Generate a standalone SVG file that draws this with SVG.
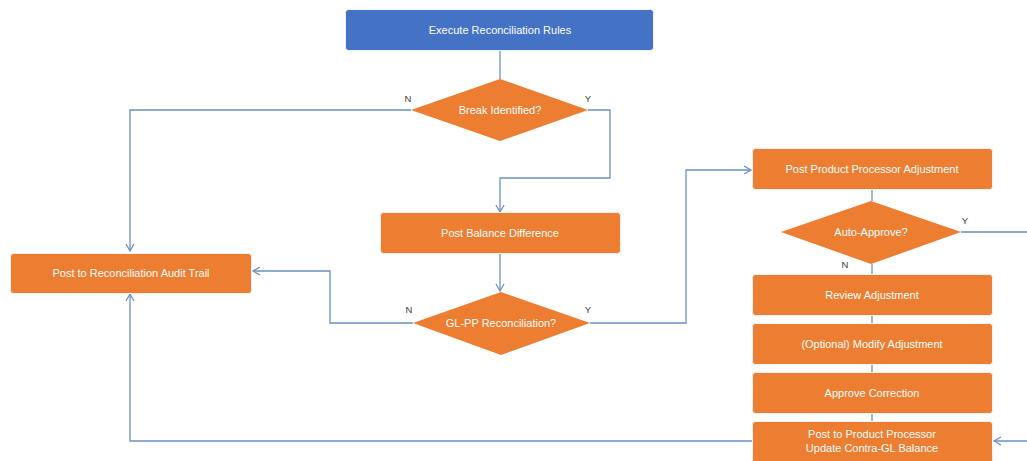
<svg xmlns="http://www.w3.org/2000/svg" width="1027" height="461" viewBox="0 0 1027 461">
<style>
.box{fill:#ED7D31;stroke:#F2F2F2;stroke-width:1}
.blue{fill:#4472C4;stroke:#F2F2F2;stroke-width:1}
.dia{fill:#ED7D31}
.t{font-family:"Liberation Sans",Arial,sans-serif;font-size:11px;fill:#FFFFFF;text-anchor:middle;dominant-baseline:central}
.lbl{font-family:"Liberation Sans",Arial,sans-serif;font-size:9.5px;fill:#404040;text-anchor:middle}
.c{fill:none;stroke:#6D90BE;stroke-width:1.3}
</style>
<defs>
<marker id="a" markerWidth="10" markerHeight="10" refX="8" refY="5" orient="auto" markerUnits="userSpaceOnUse">
<path d="M1,1 L8,5 L1,9" fill="none" stroke="#6D90BE" stroke-width="1.3"/>
</marker>
</defs>
<rect width="1027" height="461" fill="#FFFFFF"/>
<g id="connectors">
<path class="c" d="M500,50 V79"/>
<path class="c" d="M411,110 H130 V251" marker-end="url(#a)"/>
<path class="c" d="M588,110 H610 V178 H500 V212" marker-end="url(#a)"/>
<path class="c" d="M500,253 V291" marker-end="url(#a)"/>
<path class="c" d="M413,323 H330 V271 H253" marker-end="url(#a)"/>
<path class="c" d="M590,323 H686 V170 H751" marker-end="url(#a)"/>
<path class="c" d="M872,189 V201"/>
<path class="c" d="M961,232 H1027"/>
<path class="c" d="M872,264 V275"/>
<path class="c" d="M872,315 V324"/>
<path class="c" d="M872,364 V373"/>
<path class="c" d="M872,413 V422"/>
<path class="c" d="M752,441 H130 V294" marker-end="url(#a)"/>
<path class="c" d="M1027,441 H994" marker-end="url(#a)"/>
</g>
<g id="execute"><rect class="blue" x="345.5" y="9.5" width="308" height="41" rx="3"/><text class="t" x="500" y="30">Execute Reconciliation Rules</text></g>
<g id="break"><polygon class="dia" points="500,79 588,110 500,141 411,110"/><text class="t" x="500" y="110">Break Identified?</text>
<text class="lbl" x="408" y="102">N</text><text class="lbl" x="588" y="102">Y</text></g>
<g id="audit"><rect class="box" x="10.5" y="253.5" width="241" height="40" rx="3"/><text class="t" x="131" y="273">Post to Reconciliation Audit Trail</text></g>
<g id="balance"><rect class="box" x="380.5" y="212.5" width="240" height="41" rx="3"/><text class="t" x="500" y="233">Post Balance Difference</text></g>
<g id="glpp"><polygon class="dia" points="501,292 590,323 501,355 413,323"/><text class="t" x="501" y="323">GL-PP Reconciliation?</text>
<text class="lbl" x="409" y="313">N</text><text class="lbl" x="588" y="313">Y</text></g>
<g id="ppadj"><rect class="box" x="752.5" y="148.5" width="240" height="41" rx="3"/><text class="t" x="872" y="169">Post Product Processor Adjustment</text></g>
<g id="auto"><polygon class="dia" points="871,201 961,232 871,264 781,232"/><text class="t" x="871" y="232">Auto-Approve?</text>
<text class="lbl" x="965" y="224">Y</text><text class="lbl" x="845" y="268">N</text></g>
<g id="review"><rect class="box" x="752.5" y="274.5" width="240" height="41" rx="3"/><text class="t" x="872" y="295">Review Adjustment</text></g>
<g id="modify"><rect class="box" x="752.5" y="323.5" width="240" height="41" rx="3"/><text class="t" x="872" y="344">(Optional) Modify Adjustment</text></g>
<g id="approve"><rect class="box" x="752.5" y="372.5" width="240" height="41" rx="3"/><text class="t" x="872" y="393">Approve Correction</text></g>
<g id="postpp"><rect class="box" x="752.5" y="421.5" width="240" height="42" rx="3"/><text class="t" x="872" y="434">Post to Product Processor</text><text class="t" x="872" y="448">Update Contra-GL Balance</text></g>
</svg>
